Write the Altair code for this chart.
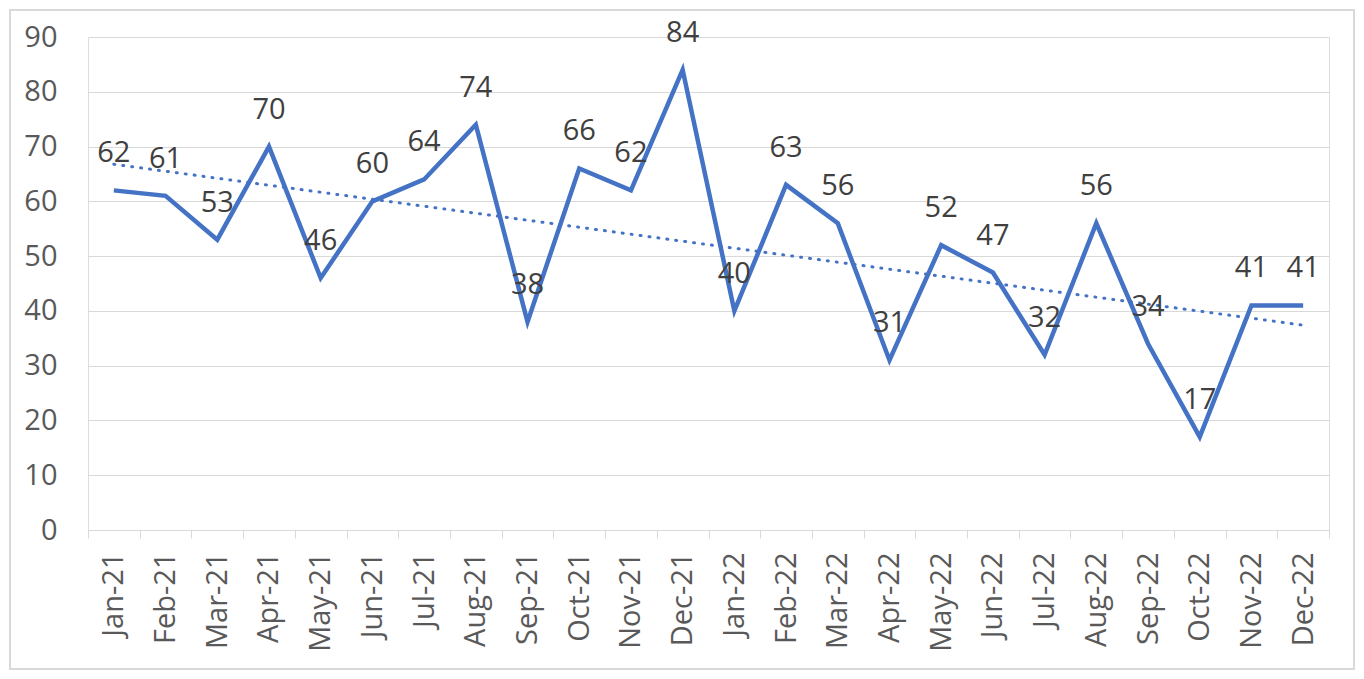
import altair as alt
import pandas as pd

months = ["Jan-21", "Feb-21", "Mar-21", "Apr-21", "May-21", "Jun-21", "Jul-21", "Aug-21",
          "Sep-21", "Oct-21", "Nov-21", "Dec-21", "Jan-22", "Feb-22", "Mar-22", "Apr-22",
          "May-22", "Jun-22", "Jul-22", "Aug-22", "Sep-22", "Oct-22", "Nov-22", "Dec-22"]
values = [62, 61, 53, 70, 46, 60, 64, 74, 38, 66, 62, 84,
          40, 63, 56, 31, 52, 47, 32, 56, 34, 17, 41, 41]
idx = list(range(len(months)))

df = pd.DataFrame({"month": months, "value": values, "idx": idx})

FONT = "Open Sans"
TXT = "#595959"
BLUE = "#4472C4"
GRID = "#D9D9D9"

x_enc = alt.X("month:O", sort=months, bandPosition=0.5,
              scale=alt.Scale(type="band", paddingInner=0, paddingOuter=0),
              axis=alt.Axis(title=None, labelAngle=-90, tickBand="extent", tickSize=8,
                            tickColor=GRID, domainColor=GRID, labelPadding=14,
                            labelFont=FONT, labelFontSize=29, labelColor=TXT,
                            grid=False))
y_enc = alt.Y("value:Q", scale=alt.Scale(domain=[0, 90], nice=False),
              axis=alt.Axis(title=None, values=list(range(0, 100, 10)), ticks=False, domain=False,
                            gridColor=GRID, labelPadding=31, labelFont=FONT,
                            labelFontSize=29, labelColor=TXT))

base = alt.Chart(df)

line = base.mark_line(color=BLUE, strokeWidth=4.5, strokeJoin="miter").encode(x=x_enc, y=y_enc)

labels = base.mark_text(font=FONT, fontSize=29, color="#404040", dy=-37, baseline="middle").encode(
    x=alt.X("month:O", sort=months, bandPosition=0.5),
    y="value:Q",
    text="value:Q",
)

month_expr = "[" + ",".join("'" + m + "'" for m in months) + "][datum.idx]"
trend = base.transform_regression("idx", "value", method="linear").transform_calculate(
    month=month_expr
).mark_line(color=BLUE, strokeWidth=3, strokeDash=[1, 8], strokeCap="round").encode(
    x=alt.X("month:O", sort=months, bandPosition=0.5),
    y="value:Q",
)

border = alt.Chart(pd.DataFrame({"a": [0]})).mark_rect(
    fill=None, stroke=GRID, strokeWidth=2
).encode(
    x=alt.value(-78), x2=alt.value(1266), y=alt.value(-27), y2=alt.value(632)
)

chart = alt.layer(border, trend, line, labels).properties(
    width=1241, height=493,
    padding={"left": 80, "top": 29, "right": 27, "bottom": 140},
    autosize=alt.AutoSizeParams(type="none"),
).configure_view(stroke=None).configure(background="white")

chart.save("out.html", embed_options={"renderer": "svg", "actions": False})
